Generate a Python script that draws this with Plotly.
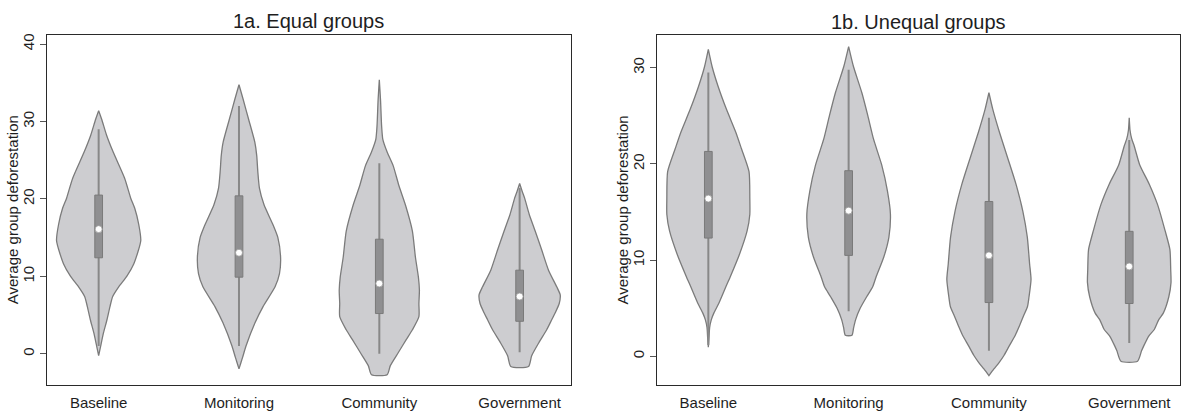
import plotly.graph_objects as go

categories = ["Baseline", "Monitoring", "Community", "Government"]
panel_titles = ["1a. Equal groups", "1b. Unequal groups"]
y_title = "Average group deforestation"
a_ticks = [0, 10, 20, 30, 40]
b_ticks = [0, 10, 20, 30]

# ---- Panel 1a: violin density profiles (value, density width)
a_base_y = [31.4, 30.3, 28.2, 26.05, 22.65, 20.1, 18.8, 16.7, 14.6, 11.6, 10.0, 8.65, 7.4, 6.1, 4.4, 2.7, 1.0, -0.25]
a_base_d = [0, 3, 8, 14.5, 26, 32, 36, 40, 42, 35, 28, 20, 14, 11.3, 8.3, 4.8, 2, 0]
a_moni_y = [34.75, 32.84, 30.29, 27.33, 25.6, 23.5, 21.4, 19.25, 16.7, 15.0, 12.47, 10.35, 8.65, 6.1, 4.0, 1.0, -0.5, -1.95]
a_moni_d = [0, 4.2, 9.6, 15.8, 17.7, 18.8, 20.4, 25, 33.8, 38.8, 41.5, 40.4, 36, 24, 16, 7, 3.5, 0]
a_comm_y = [35.4, 32.8, 29.4, 27.7, 26.0, 24.3, 21.7, 19.25, 15.85, 12.5, 9.9, 8.2, 6.5, 4.8, 3.1, 1.87, 0.17, -1.53, -2.7]
a_comm_d = [0, 1.2, 2.3, 3.5, 8, 13.8, 19.6, 26, 33, 36, 39, 40, 39.5, 39.5, 33, 27, 19, 11, 7.8]
a_gove_y = [22.0, 21.0, 20.1, 18.0, 15.9, 13.3, 10.8, 8.65, 7.6, 6.5, 5.3, 4.4, 3.1, 1.4, -0.25, -1.65]
a_gove_d = [0, 2.5, 5, 9.6, 15.4, 22.3, 28.8, 37, 40.5, 39.5, 35.5, 32, 27, 19, 12, 8.8]

# ---- Panel 1b
b_base_y = [31.9, 30.1, 28.05, 25.7, 23.3, 21.6, 19.2, 16.45, 14.75, 13.04, 10.65, 8.26, 7.24, 5.53, 4.5, 3.83, 3.0, 2.0, 0.95]
b_base_d = [0, 3.8, 9.8, 18, 27.4, 33, 40.6, 41.4, 41.4, 38.7, 31.2, 21.8, 17.5, 10.5, 5.5, 3.0, 1.3, 0.7, 0]
b_moni_y = [32.2, 30.1, 27.4, 25.0, 22.6, 19.9, 17.2, 14.8, 12.4, 10.3, 8.26, 7.24, 6.2, 5.0, 3.83, 3.0, 2.2]
b_moni_d = [0, 4.9, 13.2, 19.2, 24.8, 33, 38.7, 41.7, 40.2, 35, 27.4, 24, 18, 11.5, 7, 5, 3.3]
b_comm_y = [27.4, 25.7, 23.3, 20.6, 17.9, 15.1, 12.4, 9.6, 8.0, 6.2, 5.19, 4.2, 3.14, 2.2, 1.1, 0.1, -0.61, -1.3, -2.0]
b_comm_d = [0, 3.8, 10.5, 18.8, 27, 33.8, 38.3, 40.6, 42, 40, 38.5, 34.5, 30.3, 26.3, 20.3, 15, 10.3, 5, 0]
b_gove_y = [24.8, 23.5, 22.6, 21.9, 19.9, 17.9, 15.8, 13.1, 11.1, 9.0, 7.7, 6.2, 4.5, 3.83, 2.8, 2.12, 1.1, 0.58, -0.5]
b_gove_d = [0, 0.8, 2.5, 4.9, 10.5, 20, 28.2, 35.7, 40.6, 41.4, 41.7, 39.5, 34, 29.5, 25, 19.5, 14.5, 12.3, 8.3]

# box statistics: lower whisker, q1, median, q3, upper whisker
a_stats = [
    [1.0, 12.4, 16.1, 20.5, 29.0],
    [1.0, 9.9, 13.05, 20.4, 32.0],
    [0.0, 5.2, 9.08, 14.8, 24.6],
    [0.2, 4.2, 7.4, 10.8, 21.4],
]
b_stats = [
    [1.2, 12.3, 16.4, 21.3, 29.5],
    [4.7, 10.5, 15.15, 19.3, 29.8],
    [0.6, 5.6, 10.5, 16.1, 24.8],
    [1.4, 5.5, 9.35, 13.0, 22.5],
]

a_profiles = [(a_base_y, a_base_d), (a_moni_y, a_moni_d), (a_comm_y, a_comm_d), (a_gove_y, a_gove_d)]
b_profiles = [(b_base_y, b_base_d), (b_moni_y, b_moni_d), (b_comm_y, b_comm_d), (b_gove_y, b_gove_d)]

VIOLIN_FILL = "#cdcdd0"
VIOLIN_LINE = "#7b7b7b"
BOX_FILL = "#8f8f91"
BOX_LINE = "#7a7a7a"
WHISKER = "#888888"
FONT = "Liberation Sans, Arial, Helvetica, sans-serif"
TEXT = "#1e1e1e"
DSCALE = 0.30 / 42.0
BOXW = 0.0275

fig = go.Figure()

def add_panel(profiles, stats, xa, ya):
    for i, ((ys, ds), st) in enumerate(zip(profiles, stats)):
        xc = i + 1
        xs = [xc + d * DSCALE for d in ds] + [xc - d * DSCALE for d in reversed(ds)]
        yy = list(ys) + list(reversed(ys))
        xs.append(xs[0]); yy.append(yy[0])
        fig.add_trace(go.Scatter(x=xs, y=yy, mode="lines", fill="toself",
                                 fillcolor=VIOLIN_FILL,
                                 line=dict(color=VIOLIN_LINE, width=1.3, shape="spline", smoothing=0.6),
                                 xaxis=xa, yaxis=ya, hoverinfo="skip", showlegend=False))
        lo, q1, med, q3, hi = st
        fig.add_trace(go.Scatter(x=[xc, xc], y=[lo, hi], mode="lines",
                                 line=dict(color=WHISKER, width=2),
                                 xaxis=xa, yaxis=ya, hoverinfo="skip", showlegend=False))
        fig.add_trace(go.Scatter(x=[xc - BOXW, xc + BOXW, xc + BOXW, xc - BOXW, xc - BOXW],
                                 y=[q1, q1, q3, q3, q1], mode="lines", fill="toself",
                                 fillcolor=BOX_FILL, line=dict(color=BOX_LINE, width=1),
                                 xaxis=xa, yaxis=ya, hoverinfo="skip", showlegend=False))
        fig.add_trace(go.Scatter(x=[xc], y=[med], mode="markers",
                                 marker=dict(color="white", size=7, line=dict(color="#9a9a9a", width=0.8)),
                                 xaxis=xa, yaxis=ya, hoverinfo="skip", showlegend=False))

add_panel(a_profiles, a_stats, "x", "y")
add_panel(b_profiles, b_stats, "x2", "y2")

W, H = 1187, 411
axis_common = dict(showline=True, mirror=True, linecolor="#2a2a2a", linewidth=1.2,
                   showgrid=False, zeroline=False,
                   tickfont=dict(family=FONT, size=15, color=TEXT))

fig.update_layout(
    width=W, height=H, margin=dict(l=0, r=0, t=0, b=0),
    paper_bgcolor="white", plot_bgcolor="white", showlegend=False,
    xaxis=dict(domain=[47.3 / W, 571 / W], range=[0.634, 4.366], anchor="y",
               tickvals=[1, 2, 3, 4], ticktext=categories, ticks="", ticklabelstandoff=4, **axis_common),
    yaxis=dict(domain=[(H - 389.3) / H, (H - 34.3) / H], range=[-3.98, 41.2], anchor="x",
               tickvals=a_ticks, ticks="outside", ticklen=6, tickcolor="#555555", tickwidth=1,
               tickangle=-90, **axis_common),
    xaxis2=dict(domain=[656.7 / W, 1180.3 / W], range=[0.632, 4.364], anchor="y2",
                tickvals=[1, 2, 3, 4], ticktext=categories, ticks="", ticklabelstandoff=4, **axis_common),
    yaxis2=dict(domain=[(H - 390) / H, (H - 35) / H], range=[-3.0, 33.35], anchor="x2",
                tickvals=b_ticks, ticks="outside", ticklen=6, tickcolor="#555555", tickwidth=1,
                tickangle=-90, **axis_common),
)

annots = [
    dict(text=panel_titles[0], x=309 / W, y=(H - 20) / H, xref="paper", yref="paper",
         xanchor="center", yanchor="middle", showarrow=False,
         font=dict(family=FONT, size=20, color=TEXT)),
    dict(text=panel_titles[1], x=918.5 / W, y=(H - 21) / H, xref="paper", yref="paper",
         xanchor="center", yanchor="middle", showarrow=False,
         font=dict(family=FONT, size=20, color=TEXT)),
    dict(text=y_title, x=12.5 / W, y=(H - 211.8) / H, xref="paper", yref="paper",
         xanchor="center", yanchor="middle", textangle=-90, showarrow=False,
         font=dict(family=FONT, size=15, color=TEXT)),
    dict(text=y_title, x=622 / W, y=(H - 212.5) / H, xref="paper", yref="paper",
         xanchor="center", yanchor="middle", textangle=-90, showarrow=False,
         font=dict(family=FONT, size=15, color=TEXT)),
]
fig.update_layout(annotations=annots)

fig.write_html("out.html")
